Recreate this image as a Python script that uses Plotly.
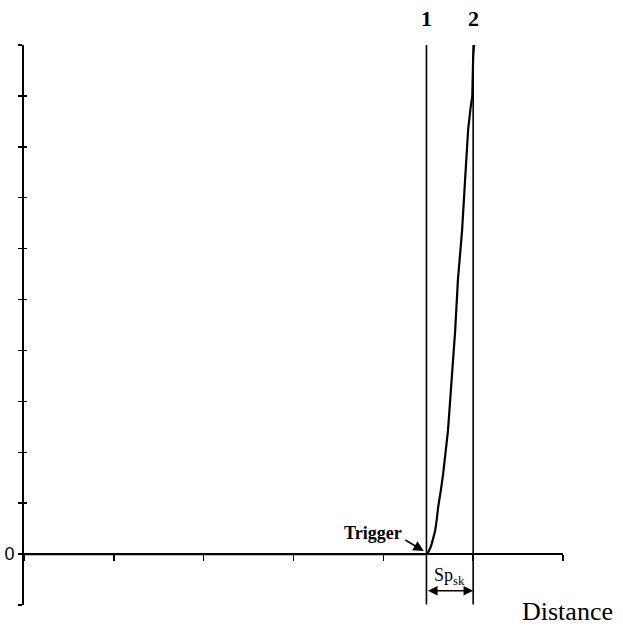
import plotly.graph_objects as go

# ---- data ----
curve_x = [0.0, 4.477, 4.495, 4.51, 4.525, 4.54, 4.558, 4.577, 4.595, 4.61, 4.64, 4.666, 4.72, 4.755,
           4.80, 4.83, 4.877, 4.91, 4.944, 4.97, 4.99, 5.0, 5.01]
curve_y = [0.0, 0.0, 0.02, 0.07, 0.13, 0.21, 0.32, 0.46, 0.68, 0.92, 1.25, 1.58, 2.43, 3.22,
           4.40, 5.38, 6.37, 7.35, 8.34, 8.75, 8.99, 9.77, 10.0]
marker_positions = [4.48, 5.0]
marker_labels = ["1", "2"]
y_tick_vals = list(range(-1, 11))
y_tick_text = ["" if v != 0 else "0" for v in y_tick_vals]
x_tick_vals = [0, 1, 2, 3, 4, 5, 6]
x_range = [0, 6]
y_range = [-1, 10]

fig = go.Figure()

# vertical marker lines
for xv in marker_positions:
    fig.add_trace(go.Scatter(x=[xv, xv], y=[-0.99, 10.0], mode="lines",
                             line=dict(color="black", width=1.6), hoverinfo="skip",
                             showlegend=False))

# curve
fig.add_trace(go.Scatter(x=curve_x, y=curve_y, mode="lines",
                         line=dict(color="black", width=2.2),
                         showlegend=False))

# overlay y axis for inner half of the crossing ticks
fig.add_trace(go.Scatter(x=[0], y=[0], yaxis="y2", mode="markers",
                         marker=dict(opacity=0), showlegend=False, hoverinfo="skip"))

serif = "Liberation Serif"
annotations = []
for xv, lab in zip(marker_positions, marker_labels):
    annotations.append(dict(x=xv, y=1.048, xref="x", yref="paper", text=f"<b>{lab}</b>",
                            showarrow=False,
                            font=dict(family=serif, size=22, color="black", weight="bold"),
                            xanchor="center", yanchor="middle"))
# Trigger text
annotations.append(dict(x=3.885, y=0.42, xref="x", yref="y", text="<b>Trigger</b>",
                        showarrow=False, font=dict(family=serif, size=18, color="black"),
                        xanchor="center", yanchor="middle"))
# Trigger arrow
annotations.append(dict(x=4.45, y=0.06, xref="x", yref="y", text="", showarrow=True,
                        ax=-20, ay=-12, arrowhead=2, arrowsize=1.3, arrowwidth=1.6,
                        arrowcolor="black"))
# Sp_sk label
annotations.append(dict(x=4.74, y=-0.44, xref="x", yref="y", text="Sp<sub>sk</sub>",
                        showarrow=False, font=dict(family=serif, size=18, color="black"),
                        xanchor="center", yanchor="middle"))
# double arrow
annotations.append(dict(x=marker_positions[1], y=-0.72, xref="x", yref="y",
                        ax=marker_positions[0], ay=-0.72, axref="x", ayref="y",
                        text="", showarrow=True, arrowside="end+start", arrowhead=2,
                        arrowsize=1.2, arrowwidth=1.6, arrowcolor="black"))
# Distance
annotations.append(dict(x=1.009, y=-0.012, xref="paper", yref="paper", text="Distance",
                        showarrow=False, font=dict(family=serif, size=26, color="black"),
                        xanchor="center", yanchor="middle"))

fig.update_layout(
    width=623, height=626,
    margin=dict(l=24, r=60, t=45, b=21, autoexpand=False),
    paper_bgcolor="white", plot_bgcolor="white",
    showlegend=False,
    xaxis=dict(range=x_range, anchor="free", position=1 / 11, automargin=False,
               showline=True, linecolor="black", linewidth=2,
               ticks="outside", ticklen=6, tickwidth=1.5, tickcolor="black",
               tickvals=x_tick_vals, showticklabels=False,
               showgrid=False, zeroline=False),
    yaxis=dict(range=y_range, showline=True, linecolor="black", linewidth=2, automargin=False,
               ticks="outside", ticklen=4, tickwidth=1.5, tickcolor="black",
               tickvals=y_tick_vals, ticktext=y_tick_text, ticklabelstandoff=0,
               tickfont=dict(family="Liberation Sans", size=18, color="black"),
               showgrid=False, zeroline=False),
    yaxis2=dict(range=y_range, overlaying="y", side="left", anchor="x", automargin=False,
                showline=False, ticks="inside", ticklen=3, tickwidth=1.5, tickcolor="black",
                tickvals=y_tick_vals, showticklabels=False, showgrid=False, zeroline=False),
    annotations=annotations,
)

fig.write_html("out.html", config={"displayModeBar": False, "staticPlot": True})

# remove default page margin so the figure sits at the window's top-left corner
with open("out.html", "r", encoding="utf-8") as f:
    html = f.read()
html = html.replace("<head>", "<head><style>html,body{margin:0;padding:0;overflow:hidden;}</style>", 1)
with open("out.html", "w", encoding="utf-8") as f:
    f.write(html)
